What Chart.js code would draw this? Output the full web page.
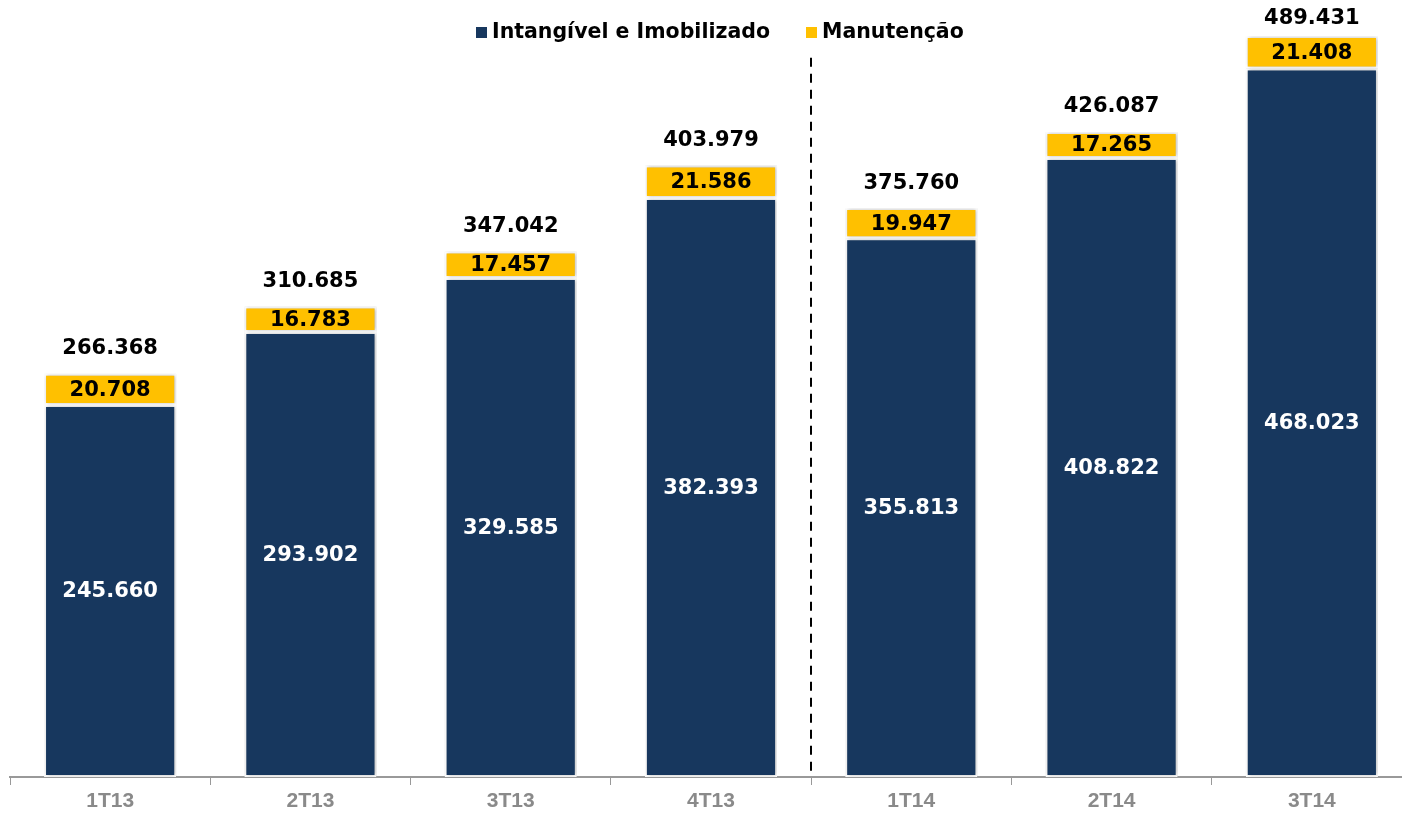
<!DOCTYPE html>
<html>
<head>
<meta charset="utf-8">
<script src="https://cdn.jsdelivr.net/npm/chart.js@4.4.0/dist/chart.umd.min.js"></script>
<style>
html,body{margin:0;padding:0;background:#fff;overflow:hidden;}
#wrap{position:relative;width:1412px;height:818px;}
</style>
</head>
<body>
<div id="wrap"><canvas id="c"></canvas></div>
<script>
const categories = ['1T13','2T13','3T13','4T13','1T14','2T14','3T14'];
const intangivel = [245.660, 293.902, 329.585, 382.393, 355.813, 408.822, 468.023];
const manutencao = [20.708, 16.783, 17.457, 21.586, 19.947, 17.265, 21.408];
const totals = [266.368, 310.685, 347.042, 403.979, 375.760, 426.087, 489.431];
const seriesNames = ['Intangível e Imobilizado', 'Manutenção'];
const colors = ['#17375E', '#FFC000'];

function fmt(v){ return v.toFixed(3); }

const LABEL_FONT = 'bold 21px "DejaVu Sans"';

const labelsPlugin = {
  id: 'labels',
  afterDatasetsDraw(chart){
    const ctx = chart.ctx;
    ctx.save();
    ctx.font = LABEL_FONT;
    ctx.textAlign = 'center';
    ctx.textBaseline = 'middle';
    const m0 = chart.getDatasetMeta(0), m1 = chart.getDatasetMeta(1);
    m0.data.forEach((b,i)=>{
      ctx.fillStyle = '#ffffff';
      ctx.fillText(fmt(intangivel[i]), b.x, (b.y + b.base)/2 + 1);
    });
    m1.data.forEach((b,i)=>{
      ctx.fillStyle = '#000000';
      ctx.fillText(fmt(manutencao[i]), b.x, (b.y + b.base)/2 + 1);
      ctx.fillText(fmt(totals[i]), b.x, Math.max(b.y - 25, 19));
    });
    // separator
    const xs = chart.scales.x, ys = chart.scales.y;
    const sx = Math.round((xs.getPixelForValue(3) + xs.getPixelForValue(4))/2);
    ctx.strokeStyle = '#000';
    ctx.lineWidth = 2;
    ctx.setLineDash([9,7]);
    ctx.beginPath();
    ctx.moveTo(sx, ys.getPixelForValue(475));
    ctx.lineTo(sx, ys.getPixelForValue(0));
    ctx.stroke();
    ctx.setLineDash([]);
    // legend
    ctx.font = 'bold 20.5px "DejaVu Sans"';
    ctx.textAlign = 'left';
    const items = [{x:476, t:seriesNames[0], c:colors[0]},{x:806, t:seriesNames[1], c:colors[1]}];
    items.forEach(it=>{
      ctx.fillStyle = it.c;
      ctx.fillRect(it.x, 27, 11, 11);
      ctx.fillStyle = '#000';
      ctx.fillText(it.t, it.x + 16, 33);
    });
    ctx.restore();
  }
};

const shadowPlugin = {
  id: 'shadow',
  beforeDatasetDraw(chart){
    const ctx = chart.ctx;
    ctx.save();
    ctx.shadowColor = 'rgba(0,0,0,0.28)';
    ctx.shadowBlur = 4;
    ctx.shadowOffsetX = 1;
    ctx.shadowOffsetY = 0;
  },
  afterDatasetDraw(chart){
    chart.ctx.restore();
  }
};

new Chart(document.getElementById('c'), {
  type: 'bar',
  data: {
    labels: categories,
    datasets: [
      {label: seriesNames[0], data: intangivel, backgroundColor: colors[0], borderColor: '#ffffff', borderWidth: 2, borderSkipped: false},
      {label: seriesNames[1], data: manutencao, backgroundColor: colors[1], borderColor: '#ffffff', borderWidth: 2, borderSkipped: false}
    ]
  },
  options: {
    responsive: true,
    maintainAspectRatio: false,
    animation: false,
    layout: {padding: {top: 20, left: 10, right: 0, bottom: 0}},
    plugins: {legend: {display: false}, tooltip: {enabled: false}},
    datasets: {bar: {barPercentage: 0.66, categoryPercentage: 1.0}},
    scales: {
      x: {
        stacked: true,
        grid: {display: true, drawOnChartArea: false, drawTicks: true, tickLength: 8, color: '#999', offset: true},
        border: {display: true, color: '#999', width: 2},
        ticks: {color: '#8a8a8a', font: {family: 'Liberation Sans', weight: 'bold', size: 21, lineHeight: 1.0}, padding: 6}
      },
      y: {
        stacked: true,
        display: false,
        min: 0,
        max: 500
      }
    }
  },
  plugins: [shadowPlugin, labelsPlugin]
});
</script>
</body>
</html>
